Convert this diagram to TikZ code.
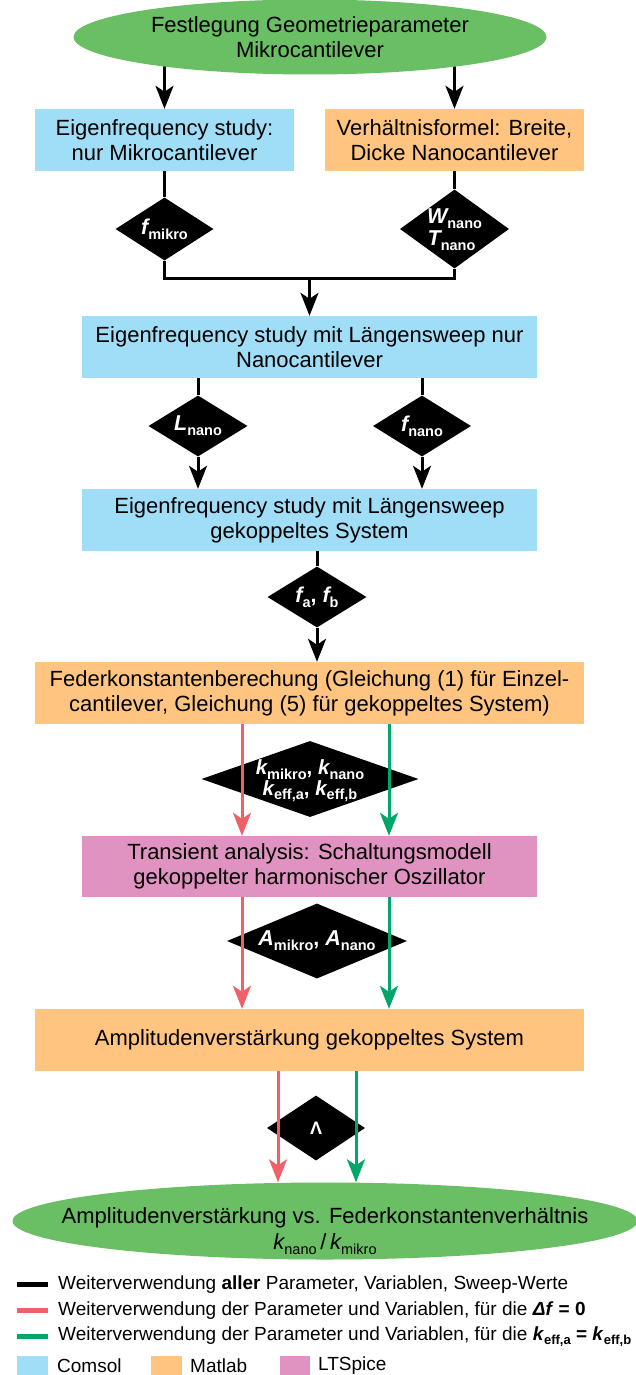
\documentclass[tikz,border=0pt]{standalone}
\usepackage{fontspec}
\setmainfont{Liberation Sans}
\usetikzlibrary{shapes.geometric,arrows.meta,backgrounds}
\definecolor{cblue}{RGB}{160,221,246}
\definecolor{corange}{RGB}{255,197,128}
\definecolor{cpink}{RGB}{224,146,192}
\definecolor{cgreen}{RGB}{106,190,100}
\definecolor{cred}{RGB}{240,96,104}
\definecolor{cgarrow}{RGB}{0,166,106}
\newcommand{\sbx}[1]{\raisebox{-0.22em}{\fontsize{14.5}{14.5}\selectfont #1}}
\newcommand{\sbl}[1]{\raisebox{-0.22em}{\fontsize{13}{13}\selectfont #1}}
\newcommand{\vv}[2]{{\itshape #1}\sbx{#2}}
\begin{document}
\begin{tikzpicture}[x=1pt,y=-1pt,
  box/.style={rectangle, inner sep=0pt, minimum width=#1, minimum height=62pt, align=center, font=\fontsize{22}{25}\selectfont},
  oval/.style={ellipse, fill=cgreen, inner sep=0pt, align=center, font=\fontsize{22}{25}\selectfont},
  dia/.style={diamond, fill=black, inner sep=0pt},
  diatext/.style={text=white, inner sep=0pt, align=center, font=\fontsize{21.5}{21}\selectfont\bfseries},
  blkline/.style={line width=3pt, black},
  tip/.style={-{Stealth[length=23pt,width=18pt,inset=6pt]}},
  blk/.style={blkline, tip},
  redarr/.style={line width=3pt, cred, tip},
  grnarr/.style={line width=3pt, cgarrow, tip},
  legtext/.style={anchor=west, inner sep=0pt, font=\fontsize{19}{22}\selectfont}]
\useasboundingbox (0,0) rectangle (636,1375);

% ellipses and boxes
\node[oval, minimum width=473pt, minimum height=75pt] (e1) at (310,37) {Festlegung Geometrieparameter\\Mikrocantilever};
\node[box=259pt, fill=cblue] (b1) at (164.5,140) {Eigenfrequency study:\\nur Mikrocantilever};
\node[box=259pt, fill=corange] (b2) at (454.5,140) {Verhältnisformel: Breite,\\Dicke Nanocantilever};
\node[box=455pt, fill=cblue] (b3) at (309.5,347) {Eigenfrequency study mit Längensweep nur\\Nanocantilever};
\node[box=455pt, fill=cblue] (b4) at (309.5,520) {Eigenfrequency study mit Längensweep\\gekoppeltes System};
\node[box=549pt, fill=corange] (b5) at (309.5,693) {Federkonstantenberechung (Gleichung (1) für Einzel-\\cantilever, Gleichung (5) für gekoppeltes System)};
\node[box=455pt, fill=cpink, minimum height=61pt] (b6) at (309.5,866.5) {Transient analysis: Schaltungsmodell\\gekoppelter harmonischer Oszillator};
\node[box=549pt, fill=corange] (b7) at (309.5,1040) {Amplitudenverstärkung gekoppeltes System};
\node[oval, minimum width=625pt, minimum height=77pt] (e2) at (325,1221) {};
\node[align=center, inner sep=0pt, font=\fontsize{22}{26}\selectfont] (e2t) at (325,1231) {Amplitudenverstärkung vs. Federkonstantenverhältnis\\\vv{k}{nano}\,/\,\vv{k}{mikro}};

% diamonds
\node[dia, minimum width=98pt, minimum height=63pt] (d1) at (164.5,229) {};
\node[diatext] (t1) at (164.5,229) {\vv{f}{mikro}};
\node[dia, minimum width=109pt, minimum height=79pt] (d2) at (454.5,229) {};
\node[diatext, font=\fontsize{21.5}{22}\selectfont\bfseries] (t2) at (454.5,230) {\vv{W}{nano}\\\hspace*{-6pt}\vv{T}{nano}};
\node[dia, minimum width=99pt, minimum height=61pt] (d3) at (198,426) {};
\node[diatext] (t3) at (198,426) {\vv{L}{nano}};
\node[dia, minimum width=98pt, minimum height=61pt] (d4) at (422,426) {};
\node[diatext] (t4) at (422,426) {\vv{f}{nano}};
\node[dia, minimum width=99pt, minimum height=61pt] (d5) at (317,597) {};
\node[diatext] (t5) at (317,597) {\vv{f}{a}, \vv{f}{b}};
\node[dia, minimum width=217pt, minimum height=76pt] (d6) at (310,779) {};
\node[diatext, font=\fontsize{20.5}{19}\selectfont\bfseries] (t6) at (310,781) {\vv{k}{mikro}, \vv{k}{nano}\\\vv{k}{eff,a}, \vv{k}{eff,b}};
\node[dia, minimum width=180pt, minimum height=75pt] (d7) at (317,941) {};
\node[diatext] (t7) at (317,941) {\vv{A}{mikro}, \vv{A}{nano}};
\node[dia, minimum width=98pt, minimum height=65pt] (d8) at (316,1128) {};
\node[diatext, font=\fontsize{18}{18}\selectfont\bfseries] (t8) at (316,1128) {Λ};

% coordinates
\coordinate (j) at (309.5,278);
\coordinate (rx) at (242,0);
\coordinate (gx) at (389,0);
\coordinate (rx2) at (278,0);
\coordinate (gx2) at (356,0);

% black connectors
\begin{pgfonlayer}{background}
\draw[blk] (e1.center -| b1.north) -- (b1.north);
\draw[blk] (e1.center -| b2.north) -- (b2.north);
\draw[blkline] (b1.south) -- (d1.north);
\draw[blkline] (b2.south) -- (d2.north);
\draw[blkline] (d1.south) |- (j) -| (d2.south);
\draw[blk] (j) -- (b3.north);
\draw[blkline] (b3.south -| d3.north) -- (d3.north);
\draw[blk] (d3.south) -- (d3.south |- b4.north);
\draw[blkline] (b3.south -| d4.north) -- (d4.north);
\draw[blk] (d4.south) -- (d4.south |- b4.north);
\draw[blkline] (b4.south -| d5.north) -- (d5.north);
\draw[blk] (d5.south) -- (d5.south |- b5.north);
\end{pgfonlayer}

% coloured connectors
\draw[redarr] (b5.south -| rx) -- (b6.north -| rx);
\draw[grnarr] (b5.south -| gx) -- (b6.north -| gx);
\draw[redarr] (b6.south -| rx) -- (b7.north -| rx);
\draw[grnarr] (b6.south -| gx) -- (b7.north -| gx);
\draw[redarr] (b7.south -| rx2) -- (e2.north -| rx2);
\draw[grnarr] (b7.south -| gx2) -- (e2.north -| gx2);

% legend
\draw[line width=5pt, black] (17,1284) -- (48,1284);
\draw[line width=5pt, cred] (17,1310) -- (48,1310);
\draw[line width=5pt, cgarrow] (17,1336) -- (48,1336);
\node[legtext] (l1) at (58,1285) {Weiterverwendung \textbf{aller} Parameter, Variablen, Sweep-Werte};
\node[legtext] (l2) at (58,1311) {Weiterverwendung der Parameter und Variablen, für die \textbf{\textit{Δf} = 0}};
\node[legtext] (l3) at (58,1337) {Weiterverwendung der Parameter und Variablen, für die \textbf{\textit{k}\sbl{eff,a} = \textit{k}\sbl{eff,b}}};
\fill[cblue] (17,1356) rectangle (48,1375);
\fill[corange] (151,1356) rectangle (182,1375);
\fill[cpink] (280,1356) rectangle (310,1375);
\node[legtext] (c1) at (57,1366) {Comsol};
\node[legtext] (c2) at (190,1366) {Matlab};
\node[legtext] (c3) at (318,1366) {LTSpice};
\end{tikzpicture}
\end{document}
